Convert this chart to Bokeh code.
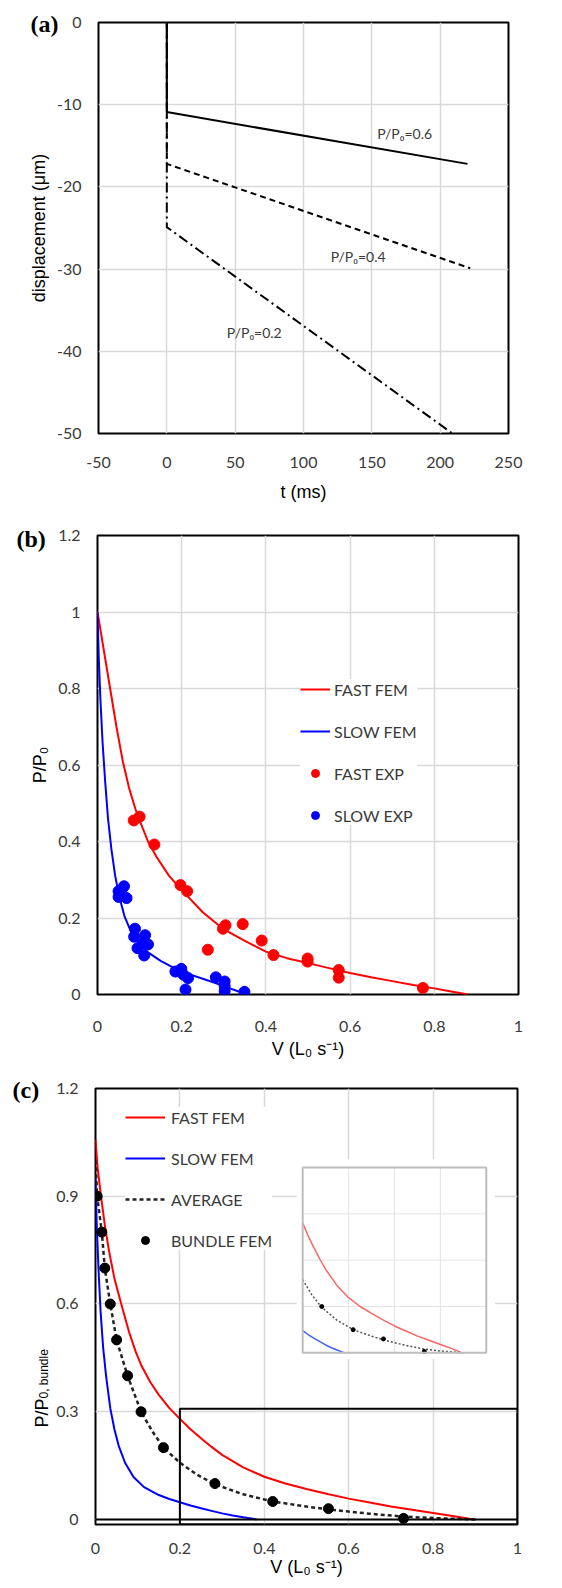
import math
from bokeh.plotting import figure
from bokeh.layouts import column
from bokeh.models import (Range1d, FixedTicker, NumeralTickFormatter, Label,
                          Legend, LegendItem, Span)
from bokeh.embed import file_html
from bokeh.resources import INLINE

# ---------------- data: panel (a) ----------------
a_t_06 = [0, 0, 220]
a_d_06 = [0, -10.9, -17.2]
a_t_04 = [0, 0, 222]
a_d_04 = [0, -17.2, -29.9]
a_t_02 = [0, 0, 209]
a_d_02 = [0, -24.9, -50.0]
a_labels = ["P/P\u2080=0.6", "P/P\u2080=0.4", "P/P\u2080=0.2"]
a_xticks = [-50, 0, 50, 100, 150, 200, 250]
a_yticks = [-50, -40, -30, -20, -10, 0]

# ---------------- data: panel (b) ----------------
b_fast_fem_v = [0, 0.015, 0.03, 0.045, 0.06, 0.075, 0.09, 0.1, 0.12, 0.14, 0.17,
                0.2, 0.25, 0.3, 0.35, 0.4, 0.45, 0.5, 0.55, 0.6, 0.65, 0.7, 0.75,
                0.8, 0.84, 0.88]
b_fast_fem_p = [1.0, 0.9, 0.8, 0.7, 0.61, 0.54, 0.485, 0.455, 0.4, 0.36, 0.31,
                0.273, 0.215, 0.17, 0.14, 0.112, 0.095, 0.082, 0.069, 0.056, 0.045,
                0.035, 0.025, 0.016, 0.008, 0.0]
b_slow_fem_v = [0, 0.003, 0.007, 0.012, 0.018, 0.025, 0.033, 0.042, 0.052, 0.064, 0.08,
                0.1, 0.12, 0.15, 0.18, 0.21, 0.25, 0.28, 0.31, 0.335, 0.35]
b_slow_fem_p = [1.0, 0.88, 0.77, 0.66, 0.56, 0.46, 0.38, 0.31, 0.255, 0.205, 0.163,
                0.13, 0.11, 0.088, 0.07, 0.056, 0.041, 0.03, 0.018, 0.008, 0.0]
b_fast_exp_v = [0.086, 0.100, 0.135, 0.197, 0.213, 0.298, 0.304, 0.345, 0.262, 0.390,
                0.418, 0.499, 0.499, 0.573, 0.573, 0.773]
b_fast_exp_p = [0.455, 0.465, 0.392, 0.286, 0.270, 0.172, 0.181, 0.184, 0.117, 0.141,
                0.103, 0.094, 0.086, 0.064, 0.044, 0.017]
b_slow_exp_v = [0.050, 0.063, 0.050, 0.069, 0.058, 0.089, 0.113, 0.087, 0.109, 0.095,
                0.120, 0.111, 0.185, 0.199, 0.204, 0.215, 0.209, 0.281, 0.302, 0.302,
                0.302, 0.349]
b_slow_exp_p = [0.270, 0.283, 0.255, 0.252, 0.262, 0.172, 0.155, 0.151, 0.134, 0.121,
                0.131, 0.102, 0.060, 0.067, 0.052, 0.043, 0.013, 0.045, 0.034, 0.022,
                0.009, 0.007]
b_xticks = [0, 0.2, 0.4, 0.6, 0.8, 1.0]
b_yticks = [0, 0.2, 0.4, 0.6, 0.8, 1.0, 1.2]

# ---------------- data: panel (c) ----------------
c_fast_v = [0, 0.005, 0.013, 0.022, 0.032, 0.045, 0.061, 0.08, 0.095, 0.109, 0.13,
            0.15, 0.175, 0.2, 0.225, 0.25, 0.275, 0.3, 0.35, 0.4, 0.45, 0.5, 0.55,
            0.6, 0.65, 0.7, 0.75, 0.8, 0.85, 0.895]
c_fast_p = [1.058, 0.98, 0.9, 0.82, 0.748, 0.67, 0.6, 0.52, 0.468, 0.428, 0.382,
            0.347, 0.31, 0.28, 0.251, 0.226, 0.202, 0.18, 0.145, 0.119, 0.1, 0.085,
            0.071, 0.058, 0.047, 0.036, 0.027, 0.018, 0.009, 0.0]
c_slow_v = [0, 0.003, 0.007, 0.012, 0.018, 0.025, 0.035, 0.045, 0.055, 0.07, 0.09,
            0.115, 0.15, 0.175, 0.2, 0.225, 0.25, 0.275, 0.3, 0.325, 0.35, 0.382]
c_slow_p = [0.95, 0.82, 0.70, 0.58, 0.48, 0.40, 0.31, 0.25, 0.205, 0.158, 0.118,
            0.09, 0.068, 0.057, 0.048, 0.039, 0.031, 0.024, 0.017, 0.011, 0.006, 0.0]
c_avg_v = [0, 0.004, 0.015, 0.022, 0.035, 0.05, 0.076, 0.108, 0.135, 0.161, 0.2,
           0.24, 0.283, 0.35, 0.42, 0.5, 0.552, 0.6, 0.65, 0.73, 0.8, 0.85, 0.9]
c_avg_p = [1.0, 0.9, 0.8, 0.7, 0.6, 0.5, 0.4, 0.3, 0.245, 0.2, 0.158,
           0.125, 0.098, 0.07, 0.05, 0.036, 0.028, 0.022, 0.016, 0.008, 0.004, 0.002, 0.0]
c_bundle_v = [0.004, 0.015, 0.022, 0.035, 0.05, 0.076, 0.108, 0.161, 0.283, 0.42, 0.552, 0.73]
c_bundle_p = [0.9, 0.8, 0.7, 0.6, 0.5, 0.4, 0.3, 0.2, 0.1, 0.05, 0.03, 0.003]
c_xticks = [0, 0.2, 0.4, 0.6, 0.8, 1.0]
c_yticks = [0, 0.3, 0.6, 0.9, 1.2]
# inset (magnified view)
inset_x = [0.2, 1.0]
inset_y = [0.0, 0.4]
inset_xgrid = [0.4, 0.6, 0.8]
inset_ygrid = [0.1, 0.2, 0.3]

TICK_FONT = "Lato"
TITLE_FONT = "Liberation Sans"
TICK_COLOR = "#3a3a3a"


def make_fig(height, xr, yr, xt, yt, bl, br, bt, bb):
    p = figure(width=562, height=height, x_range=Range1d(*xr), y_range=Range1d(*yr),
               output_backend="svg", toolbar_location=None, title_location=None,
               min_border_left=bl, min_border_right=br,
               min_border_top=bt, min_border_bottom=bb)
    try:
        p.frame_align = False
    except Exception:
        pass
    p.background_fill_color = "white"
    p.border_fill_color = "white"
    p.outline_line_color = "black"
    p.outline_line_width = 2
    p.xaxis.ticker = FixedTicker(ticks=xt)
    p.yaxis.ticker = FixedTicker(ticks=yt)
    p.xgrid.ticker = FixedTicker(ticks=xt)
    p.ygrid.ticker = FixedTicker(ticks=yt)
    p.grid.grid_line_color = "#d9d9d9"
    p.grid.grid_line_width = 1.5
    for ax in p.axis:
        ax.axis_line_color = None
        ax.major_tick_line_color = None
        ax.minor_tick_line_color = None
        ax.major_tick_in = 0
        ax.major_tick_out = 0
        ax.minor_tick_in = 0
        ax.minor_tick_out = 0
        ax.major_label_text_font = TICK_FONT
        ax.major_label_text_font_size = "16px"
        ax.major_label_text_color = TICK_COLOR
        ax.axis_label_text_font = TITLE_FONT
        ax.axis_label_text_font_size = "18px"
        ax.axis_label_text_font_style = "normal"
        ax.axis_label_text_color = "black"
    p.yaxis.major_label_standoff = 17
    p.yaxis.axis_label_standoff = 5
    return p


def side_label(p, side, text, x, y, size="24px", font="Liberation Serif", style="bold",
               angle=0.0, baseline="middle", color="black"):
    p.add_layout(Label(x=x, y=y, x_units="screen", y_units="screen", text=text,
                       angle=angle, text_font=font, text_font_style=style,
                       text_font_size=size, text_align="left",
                       text_baseline=baseline, text_color=color), side)


def make_legend(items, loc, glyph_w, standoff, spacing, padding):
    return Legend(items=[LegendItem(label=lab, renderers=[r]) for lab, r in items],
                  location=loc, glyph_width=glyph_w, glyph_height=20, label_height=20,
                  label_standoff=standoff, spacing=spacing, padding=padding, margin=0,
                  border_line_color=None, background_fill_color="white",
                  background_fill_alpha=1.0, label_text_font=TICK_FONT,
                  label_text_font_size="16px", label_text_color=TICK_COLOR)


# ---------------- panel (a) ----------------
pa = make_fig(506, (-50, 250), (-50, 0), a_xticks, a_yticks, 98, 54, 22, 73)
pa.xaxis.axis_label = "t (ms)"
pa.yaxis.axis_label = "displacement (\u03bcm)"
pa.xaxis.major_label_standoff = 23
pa.xaxis.axis_label_standoff = 11
pa.xaxis.major_label_overrides = {v: str(v) for v in a_xticks}
pa.yaxis.major_label_overrides = {v: str(v) for v in a_yticks}
pa.line(a_t_02, a_d_02, line_color="black", line_width=2, line_dash="10 4 2 4")
pa.line(a_t_04, a_d_04, line_color="black", line_width=2, line_dash="6 4")
pa.line(a_t_06, a_d_06, line_color="black", line_width=2)
for txt, (lx, ly) in zip(a_labels, [(174, -13.5), (140, -28.5), (64, -37.7)]):
    pa.add_layout(Label(x=lx, y=ly, text=txt, text_font=TICK_FONT, text_font_size="14px",
                        text_align="center", text_baseline="middle", text_color=TICK_COLOR))
side_label(pa, "right", "(a)", -478, 410)

# ---------------- panel (b) ----------------
pb = make_fig(560, (0, 1), (0, 1.2), b_xticks, b_yticks, 97, 44, 29, 72)
pb.xaxis.axis_label = "V (L\u2080 s\u207b\u00b9)"
pb.yaxis.axis_label = "P/P\u2080"
pb.xaxis.major_label_standoff = 26
pb.xaxis.axis_label_standoff = 4
pb.xaxis.formatter = NumeralTickFormatter(format="0.[0]")
pb.yaxis.formatter = NumeralTickFormatter(format="0.[0]")
rb1 = pb.line(b_fast_fem_v, b_fast_fem_p, line_color="red", line_width=2)
rb2 = pb.line(b_slow_fem_v, b_slow_fem_p, line_color="blue", line_width=2)
rb3 = pb.scatter(b_fast_exp_v, b_fast_exp_p, size=11, color="red")
rb4 = pb.scatter(b_slow_exp_v, b_slow_exp_p, size=11, color="blue")
pb.add_layout(make_legend([("FAST FEM", rb1), ("SLOW FEM", rb2),
                           ("FAST EXP", rb3), ("SLOW EXP", rb4)],
                          (203, 169), 30, 4, 22, 12))
side_label(pb, "right", "(b)", -502, 456)

# ---------------- panel (c) ----------------
pc = make_fig(522, (0, 1), (-0.014, 1.2), c_xticks, c_yticks, 95, 45, 22, 64)
pc.xaxis.axis_label = "V (L\u2080 s\u207b\u00b9)"
pc.xaxis.major_label_standoff = 18
pc.xaxis.axis_label_standoff = 0
pc.xaxis.formatter = NumeralTickFormatter(format="0.[0]")
pc.yaxis.formatter = NumeralTickFormatter(format="0.[0]")
pc.add_layout(Span(location=0, dimension="width", line_color="black", line_width=2))
rc1 = pc.line(c_fast_v, c_fast_p, line_color="red", line_width=2)
rc2 = pc.line(c_slow_v, c_slow_p, line_color="blue", line_width=2)
rc3 = pc.line(c_avg_v, c_avg_p, line_color="#222222", line_width=2.5, line_dash="4 3")
rc4 = pc.scatter(c_bundle_v, c_bundle_p, size=10, color="black")
# magnified region outline
pc.quad(left=[inset_x[0]], right=[inset_x[1]], bottom=[-0.014], top=[0.308],
        fill_color=None, line_color="black", line_width=2)
# inset panel
pc.quad(left=[0.477], right=[0.947], bottom=[0.447], top=[1.003],
        fill_color="white", line_color=None)
sub = pc.subplot(x_source=Range1d(*inset_x), y_source=Range1d(*inset_y),
                 x_target=Range1d(0.491, 0.926), y_target=Range1d(0.464, 0.98))
sub.segment(x0=inset_xgrid, y0=[inset_y[0]] * len(inset_xgrid), x1=inset_xgrid,
            y1=[inset_y[1]] * len(inset_xgrid), line_color="#e4e4e4", line_width=1)
sub.segment(x0=[inset_x[0]] * len(inset_ygrid), y0=inset_ygrid,
            x1=[inset_x[1]] * len(inset_ygrid), y1=inset_ygrid,
            line_color="#e4e4e4", line_width=1)


def clip(vs, ps):
    pairs = [(v, q) for v, q in zip(vs, ps) if inset_x[0] <= v <= inset_x[1]]
    return [a for a, _ in pairs], [b for _, b in pairs]


sx, sy = clip(c_fast_v, c_fast_p)
sub.line(sx, sy, line_color="#ff6464", line_width=1.5)
sx, sy = clip(c_slow_v, c_slow_p)
sub.line(sx, sy, line_color="#4060ff", line_width=1.5)
sx, sy = clip(c_avg_v, c_avg_p)
sub.line(sx, sy, line_color="#555555", line_width=1.5, line_dash="2 2")
sx, sy = clip(c_bundle_v, c_bundle_p)
sub.scatter(sx, sy, size=4, color="black")
sub.quad(left=[inset_x[0]], right=[inset_x[1]], bottom=[inset_y[0]], top=[inset_y[1]],
         fill_color=None, line_color="#bdbdbd", line_width=2)

pc.add_layout(make_legend([("FAST FEM", rc1), ("SLOW FEM", rc2),
                           ("AVERAGE", rc3), ("BUNDLE FEM", rc4)],
                          (30, 274), 40, 6, 21, 13))
# panel letter (right side panel, drawn over the left margin)
side_label(pc, "right", "(c)", -505, 435)
# y title "P/P" with subscript "0, bundle" (left side panels; rotated text is
# drawn higher than its anchor, so the anchors are set lower)
side_label(pc, "left", "0, bundle", 4.5, 126, size="12px", font=TITLE_FONT,
           style="normal", angle=math.pi / 2, baseline="alphabetic")
side_label(pc, "left", "P/P", 22, 97, size="18px", font=TITLE_FONT,
           style="normal", angle=math.pi / 2, baseline="alphabetic")

layout = column(pa, pb, pc, spacing=0)
open("out.html", "w").write(file_html(layout, INLINE))
